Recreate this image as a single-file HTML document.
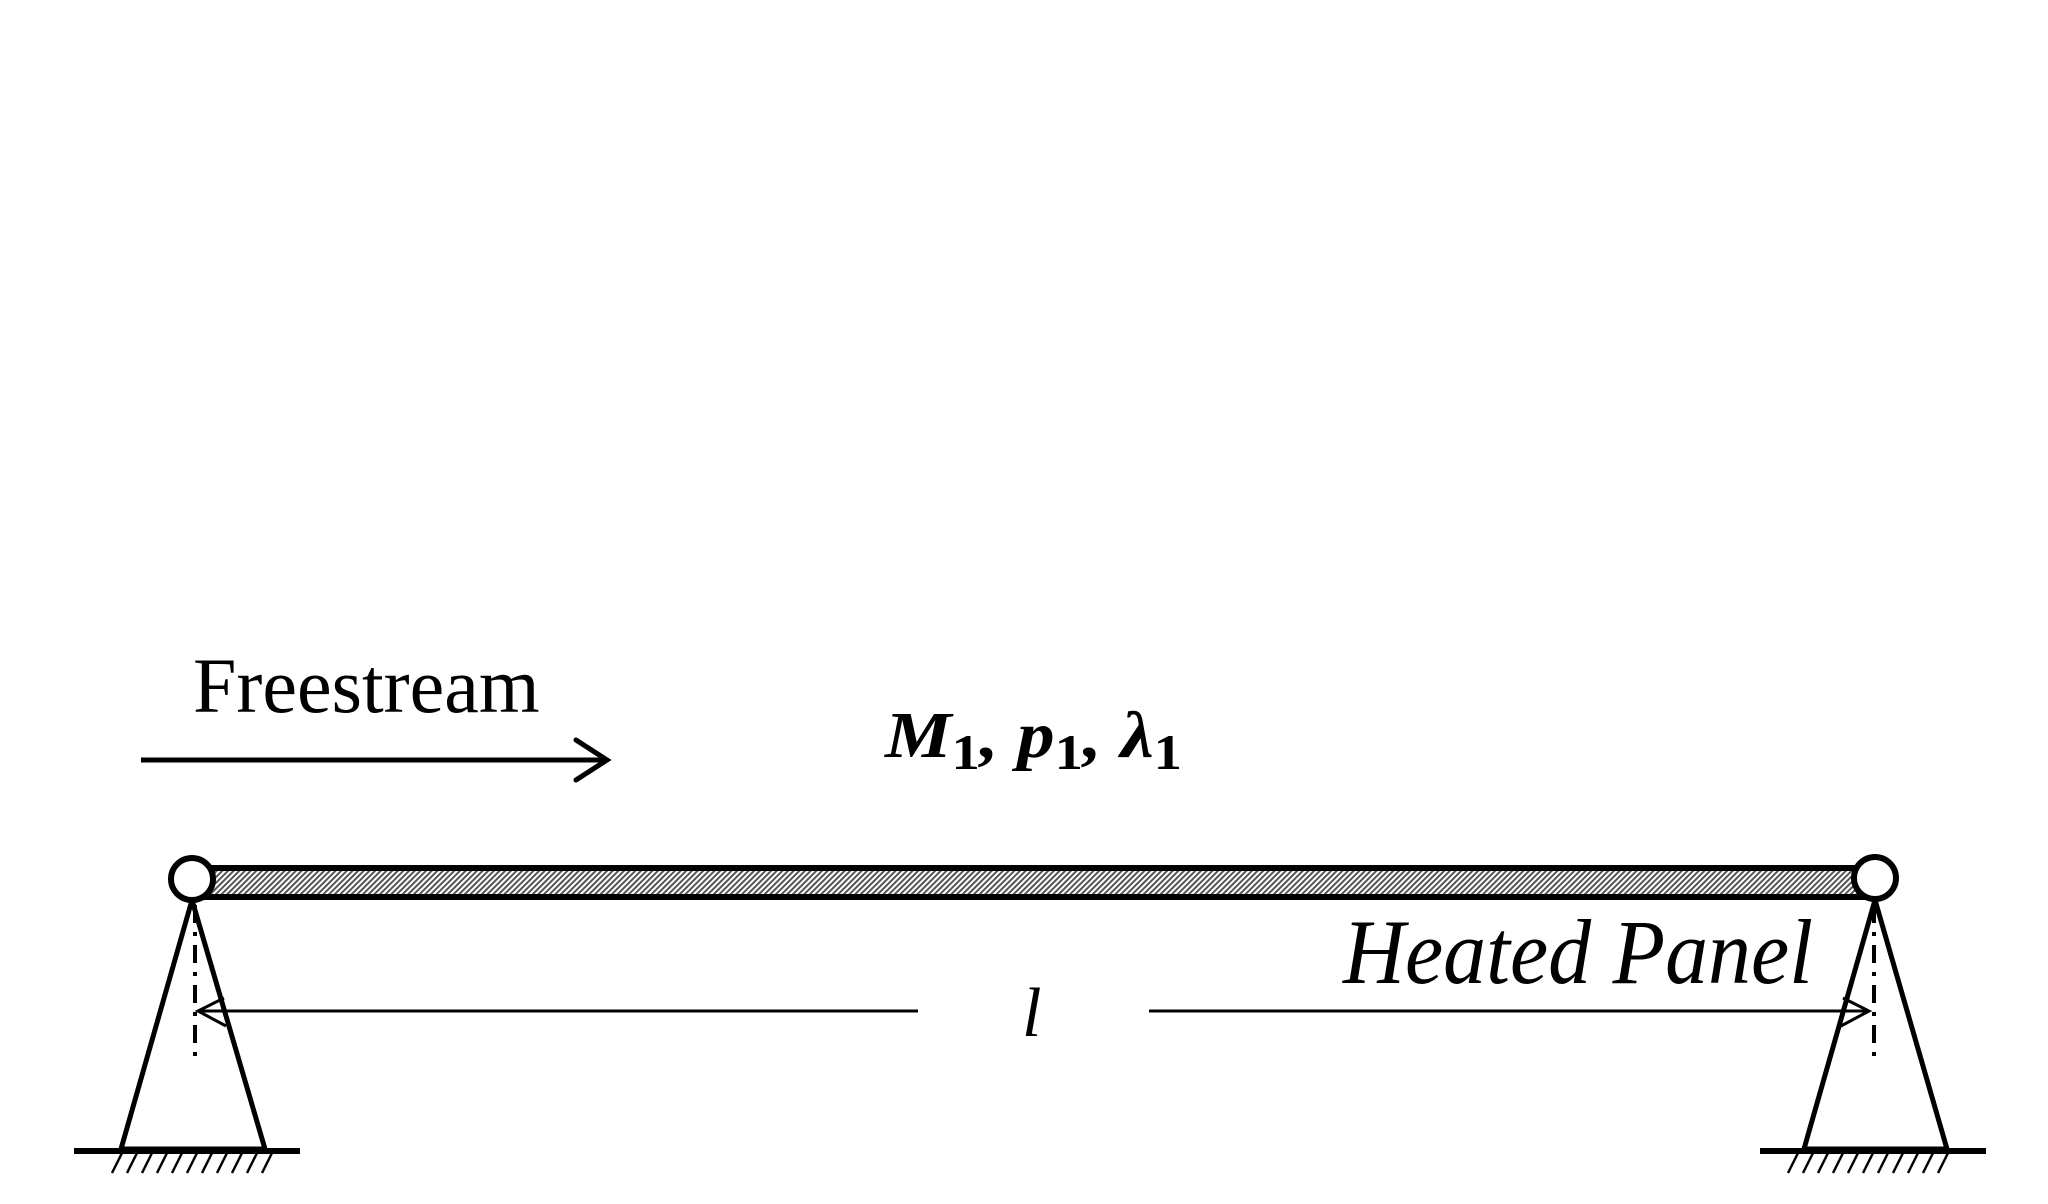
<!DOCTYPE html>
<html><head><meta charset="utf-8"><style>
html,body{margin:0;padding:0;background:#fff;width:2048px;height:1204px;overflow:hidden}
</style></head><body>
<svg width="2048" height="1204" viewBox="0 0 2048 1204" xmlns="http://www.w3.org/2000/svg">
<defs>
<pattern id="h" width="4" height="4" patternUnits="userSpaceOnUse" patternTransform="rotate(45)">
<rect width="4" height="4" fill="#fff"/><rect width="2" height="4" fill="#555"/></pattern>
</defs>
<text x="193" y="712" font-family="Liberation Serif, serif" font-size="78">Freestream</text>
<line x1="141" y1="760" x2="605" y2="760" stroke="#000" stroke-width="5"/>
<polyline points="576,740 607,760 576,780" fill="none" stroke="#000" stroke-width="5" stroke-linecap="round"/>
<text x="885" y="757" font-family="Liberation Serif, serif" font-size="66" font-weight="bold" font-style="italic" textLength="297" lengthAdjust="spacingAndGlyphs">M<tspan font-style="normal" font-weight="bold" font-size="50" dy="12">1</tspan><tspan dy="-12">, p</tspan><tspan font-style="normal" font-weight="bold" font-size="50" dy="12">1</tspan><tspan dy="-12">, λ</tspan><tspan font-style="normal" font-weight="bold" font-size="50" dy="12">1</tspan></text>
<rect x="192" y="868" width="1683" height="29" fill="url(#h)" stroke="#000" stroke-width="6"/>
<g fill="none" stroke="#000" stroke-width="5">
<polyline points="192,900 121,1149 265,1149 192,900"/>
<polyline points="1875,900 1804,1149 1947,1149 1875,900"/>
</g>
<line x1="74" y1="1151" x2="300" y2="1151" stroke="#000" stroke-width="6"/>
<line x1="1760" y1="1151" x2="1986" y2="1151" stroke="#000" stroke-width="6"/>
<g stroke="#000" stroke-width="2.5">
<path d="M112,1173 l10,-20 M127,1173 l10,-20 M142,1173 l10,-20 M157,1173 l10,-20 M172,1173 l10,-20 M187,1173 l10,-20 M202,1173 l10,-20 M217,1173 l10,-20 M232,1173 l10,-20 M247,1173 l10,-20 M262,1173 l10,-20"/>
<path d="M1788,1173 l10,-20 M1803,1173 l10,-20 M1818,1173 l10,-20 M1833,1173 l10,-20 M1848,1173 l10,-20 M1863,1173 l10,-20 M1878,1173 l10,-20 M1893,1173 l10,-20 M1908,1173 l10,-20 M1923,1173 l10,-20 M1938,1173 l10,-20"/>
</g>
<g stroke="#000" stroke-width="4" stroke-dasharray="18,9,4,9">
<line x1="195" y1="905" x2="195" y2="1058"/>
<line x1="1874" y1="905" x2="1874" y2="1058"/>
</g>
<circle cx="192" cy="879" r="21" fill="#fff" stroke="#000" stroke-width="6"/>
<circle cx="1875" cy="878" r="21" fill="#fff" stroke="#000" stroke-width="6"/>
<g stroke="#000" stroke-width="3" fill="none">
<line x1="198" y1="1011" x2="918" y2="1011"/>
<polyline points="224,998 198,1011 226,1026"/>
<line x1="1149" y1="1011" x2="1869" y2="1011"/>
<polyline points="1843,998 1869,1011 1841,1026"/>
</g>
<text x="1022" y="1036" font-family="Liberation Serif, serif" font-size="70" font-style="italic">l</text>
<text x="1343" y="983" font-family="Liberation Serif, serif" font-size="92" font-style="italic" textLength="470" lengthAdjust="spacingAndGlyphs">Heated Panel</text>
</svg>
</body></html>
